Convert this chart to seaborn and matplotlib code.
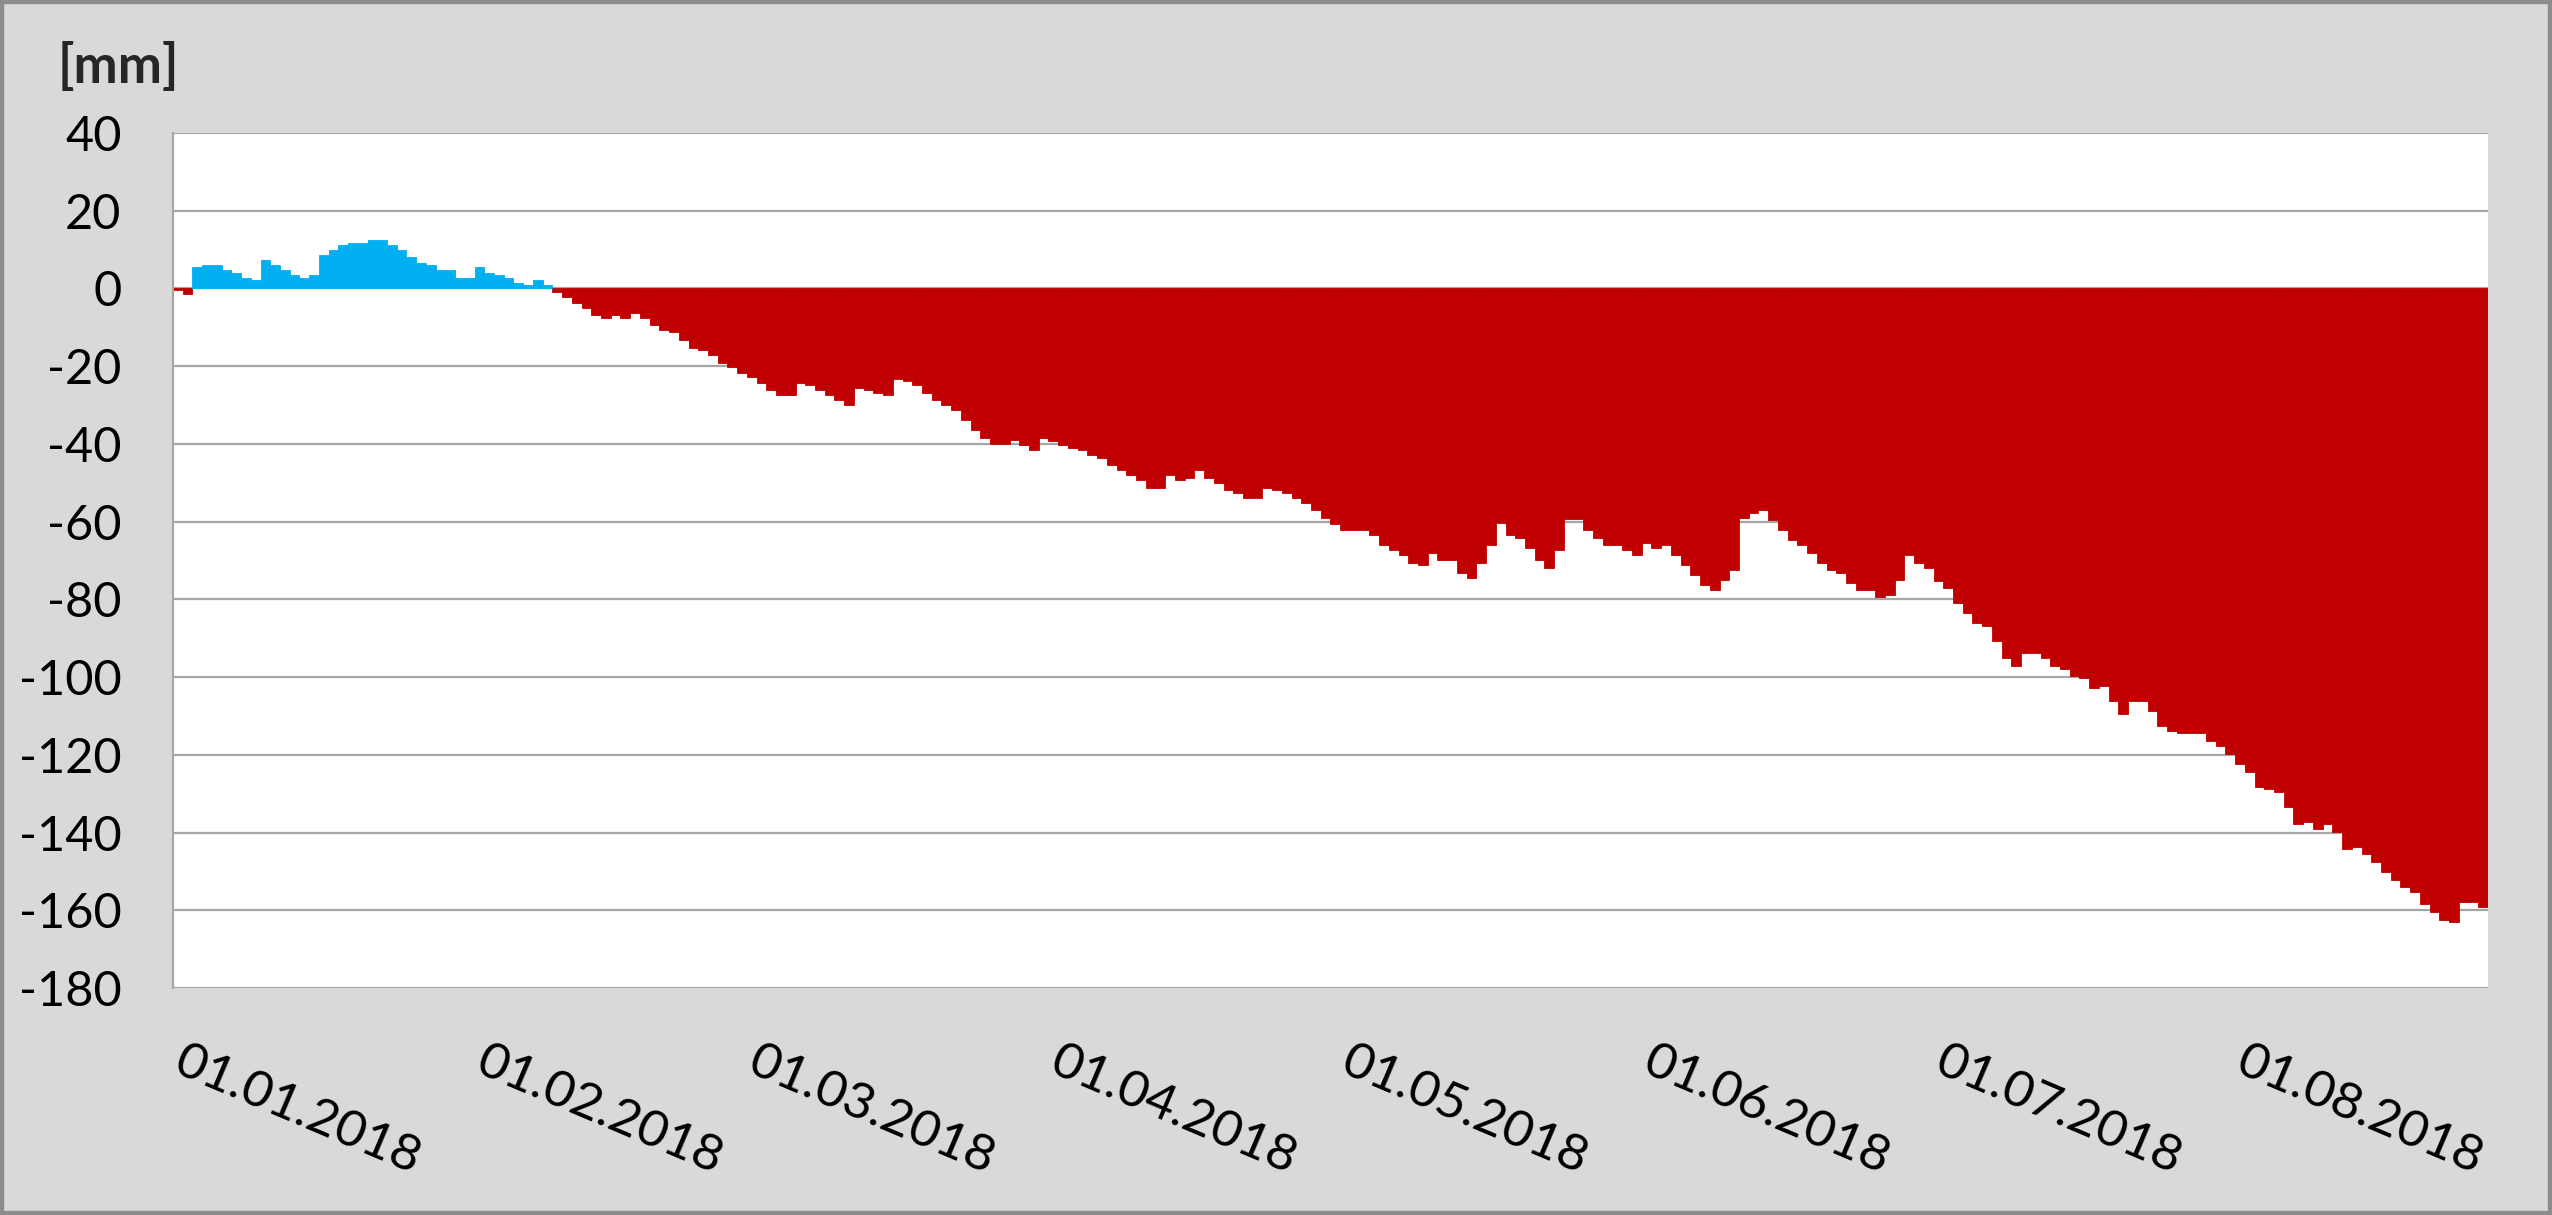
import numpy as np
import pandas as pd
import seaborn as sns
import matplotlib.pyplot as plt
import matplotlib.transforms as mtransforms
from matplotlib.patches import Rectangle

# daily cumulative climatic water balance, 01.01.2018 - 26.08.2018
days = pd.date_range("2018-01-01", periods=238, freq="D")
balance = [
    -0.5, -1.5, 5.4, 6.0, 6.0, 4.7, 4.1, 2.8, 2.1, 7.2,
    6.0, 4.7, 3.4, 2.8, 3.4, 8.6, 9.9, 11.2, 11.8, 11.8,
    12.4, 12.4, 11.2, 9.9, 8.0, 6.6, 6.0, 4.7, 4.7, 2.8,
    2.8, 5.4, 4.0, 3.4, 2.7, 1.5, 0.9, 2.1, 0.9, -0.9,
    -2.3, -3.7, -5.0, -6.9, -7.5, -6.9, -7.5, -6.3, -7.5, -9.4,
    -10.7, -11.3, -13.3, -15.3, -15.9, -17.2, -19.1, -20.3, -21.7, -22.9,
    -24.3, -26.2, -27.5, -27.5, -24.3, -24.9, -26.2, -27.5, -28.8, -30.0,
    -25.7, -26.2, -26.9, -27.5, -23.2, -23.8, -24.9, -26.9, -28.8, -30.0,
    -31.3, -33.9, -36.5, -38.4, -39.9, -39.9, -39.0, -40.3, -41.6, -38.4,
    -39.2, -40.3, -41.0, -41.6, -42.9, -43.6, -45.5, -46.8, -48.1, -49.3,
    -51.3, -51.3, -48.1, -49.3, -48.8, -46.8, -48.8, -50.0, -51.9, -52.6,
    -53.9, -53.9, -51.3, -51.9, -52.6, -53.9, -55.2, -57.1, -59.0, -60.5,
    -62.2, -62.2, -62.2, -63.5, -66.1, -67.4, -68.6, -70.6, -71.2, -68.1,
    -69.9, -69.9, -73.2, -74.5, -70.6, -66.1, -60.3, -63.5, -64.2, -66.8,
    -69.9, -71.9, -67.4, -59.2, -59.2, -62.2, -64.2, -66.1, -66.1, -67.4,
    -68.6, -65.5, -66.8, -66.1, -68.6, -71.2, -73.8, -76.4, -77.7, -75.1,
    -72.5, -59.0, -57.8, -57.1, -59.6, -62.2, -64.8, -66.1, -68.1, -70.6,
    -72.5, -73.2, -75.8, -77.7, -77.7, -79.5, -78.9, -75.1, -68.6, -70.6,
    -72.0, -75.3, -77.2, -81.0, -83.6, -86.2, -86.9, -90.7, -95.2, -97.1,
    -93.9, -93.9, -95.2, -97.1, -97.8, -99.7, -100.3, -102.9, -102.3, -106.2,
    -109.4, -106.2, -106.2, -108.8, -112.6, -113.9, -114.5, -114.5, -114.5, -116.5,
    -117.8, -119.7, -122.3, -124.3, -128.2, -128.8, -129.5, -133.4, -137.8, -137.2,
    -139.1, -137.8, -139.8, -144.3, -143.7, -145.6, -147.6, -150.2, -152.1, -154.1,
    -155.3, -158.5, -160.4, -162.4, -163.0, -157.9, -157.9, -159.1,
]
y_ticks = list(range(-180, 41, 20))
unit_label = "[mm]"
colors = {"pos": "#00B0F0", "neg": "#C00000"}

df = pd.DataFrame({"day": np.arange(len(days)), "mm": balance})
df["sign"] = np.where(df["mm"] >= 0, "pos", "neg")

sns.set_theme(style="white")
plt.rcParams["font.family"] = ["Lato", "DejaVu Sans"]
plt.rcParams["axes.unicode_minus"] = False

fig, ax = plt.subplots(figsize=(25.52, 12.15), dpi=100)
fig.patch.set_facecolor("#D9D9D9")
ax.set_facecolor("white")
fig.subplots_adjust(left=173 / 2552, right=2488 / 2552, top=1 - 133 / 1215, bottom=1 - 988 / 1215)

sns.barplot(data=df, x="day", y="mm", hue="sign", palette=colors, dodge=False,
            width=1.0, saturation=1, errorbar=None, legend=False, ax=ax)
for p in ax.patches:
    p.set_edgecolor(p.get_facecolor())
    p.set_linewidth(0.6)

grid_c = "#A6A6A6"
ax.set_ylim(-180, 40)
ax.set_yticks(y_ticks)
ax.set_yticklabels([str(v) for v in y_ticks])
ax.yaxis.grid(True, color=grid_c, linewidth=1.6)
ax.set_axisbelow(True)

month_idx = np.where(days.day == 1)[0]
ax.set_xticks(month_idx)
ax.set_xticklabels(days[month_idx].strftime("%d.%m.%Y"), rotation=-23,
                   ha="left", va="top", rotation_mode="anchor")
ax.set_xlim(-0.5, len(days) - 0.5)
ax.set_xlabel("")
ax.set_ylabel("")

ax.tick_params(axis="x", length=0, pad=36, labelsize=37, colors="black")
ax.tick_params(axis="y", length=13, width=1.6, color=grid_c, pad=24, labelsize=35, labelcolor="black")
shift = mtransforms.ScaledTranslation(6 / 72, 0, fig.dpi_scale_trans)
for lab in ax.get_xticklabels():
    lab.set_transform(lab.get_transform() + shift)

for side in ["right", "top", "bottom"]:
    ax.spines[side].set_visible(False)
ax.spines["left"].set_color(grid_c)
ax.spines["left"].set_linewidth(1.6)

fig.text(58 / 2552, 1 - 67 / 1215, unit_label, fontsize=38, fontweight="bold",
         ha="left", va="center")
fig.add_artist(Rectangle((0, 0), 1, 1, transform=fig.transFigure, fill=False,
                         edgecolor="#8C8C8C", linewidth=6))

fig.savefig("out.png", dpi=100, facecolor=fig.get_facecolor())
